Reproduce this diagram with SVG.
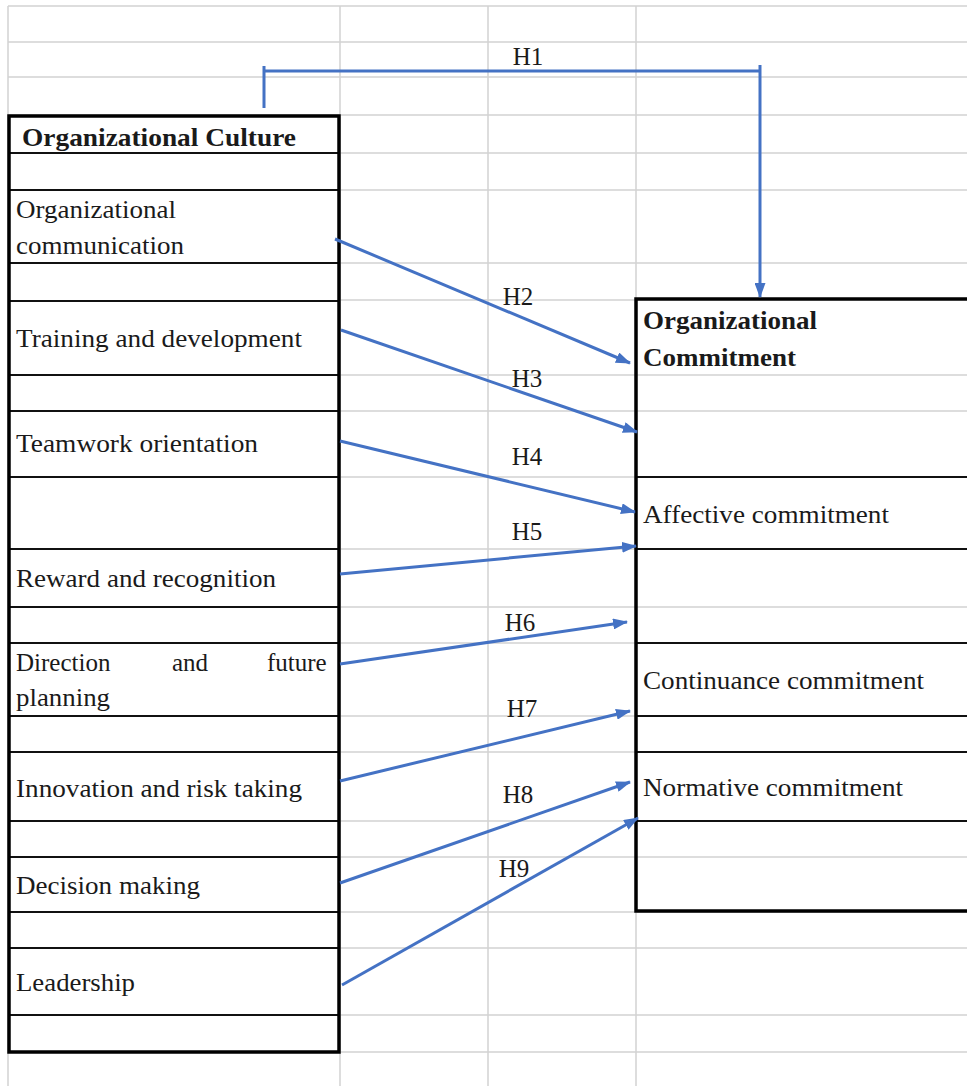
<svg xmlns="http://www.w3.org/2000/svg" width="967" height="1086" viewBox="0 0 967 1086">
<defs>
<style>
.grid{stroke:#d2d2d2;stroke-width:1.5;fill:none}
.box{stroke:#000;stroke-width:3.5;fill:none}
.row{stroke:#111;stroke-width:2;fill:none}
.t{font-family:"Liberation Serif","Times New Roman",serif;font-size:25px;fill:#1a1a1a}
.b{font-weight:bold}
.c{stroke:#4472C4;stroke-width:3;fill:none}
.lbl{font-family:"Liberation Serif","Times New Roman",serif;font-size:25px;fill:#1a1a1a;text-anchor:middle}
</style>
<marker id="ah" markerUnits="userSpaceOnUse" markerWidth="15" markerHeight="11" refX="14" refY="5.5" orient="auto">
<path d="M0,0 L15,5.5 L0,11 z" fill="#4472C4"/>
</marker>
</defs>
<rect width="967" height="1086" fill="#fff"/>
<g id="grid" class="grid">
<path d="M8,6H967M8,42H967M8,77H967M8,115H967M8,153H967M8,190H967M8,263H967M8,300H967M8,375H967M8,411H967M8,477H967M8,549H967M8,607H967M8,643H967M8,716H967M8,752H967M8,821H967M8,857H967M8,912H967M8,948H967M8,1015H967M8,1052H967"/>
<path d="M8,6V1086M340,6V1086M488,6V1086M636,6V1086"/>
</g>
<g id="org-culture">
<rect x="9" y="116" width="330" height="936" fill="#fff"/>
<path class="row" d="M9,153H339M9,190H339M9,263H339M9,301H339M9,375H339M9,411H339M9,477H339M9,549H339M9,607H339M9,643H339M9,716H339M9,752H339M9,821H339M9,857H339M9,912H339M9,948H339M9,1015H339"/>
<rect class="box" x="9" y="116" width="330" height="936"/>
<text class="t b" x="22" y="146" textLength="274" lengthAdjust="spacingAndGlyphs">Organizational Culture</text>
</g>
<g id="n-communication"><text class="t" x="16" y="218" textLength="160" lengthAdjust="spacingAndGlyphs">Organizational</text><text class="t" x="16" y="254" textLength="168" lengthAdjust="spacingAndGlyphs">communication</text></g>
<g id="n-training"><text class="t" x="16" y="347" textLength="286" lengthAdjust="spacingAndGlyphs">Training and development</text></g>
<g id="n-teamwork"><text class="t" x="16" y="452" textLength="242" lengthAdjust="spacingAndGlyphs">Teamwork orientation</text></g>
<g id="n-reward"><text class="t" x="16" y="587" textLength="260" lengthAdjust="spacingAndGlyphs">Reward and recognition</text></g>
<g id="n-direction"><text class="t" y="671"><tspan x="16">Direction</tspan><tspan x="172">and</tspan><tspan x="267">future</tspan></text><text class="t" x="16" y="706" textLength="94" lengthAdjust="spacingAndGlyphs">planning</text></g>
<g id="n-innovation"><text class="t" x="16" y="797" textLength="286" lengthAdjust="spacingAndGlyphs">Innovation and risk taking</text></g>
<g id="n-decision"><text class="t" x="16" y="894" textLength="184" lengthAdjust="spacingAndGlyphs">Decision making</text></g>
<g id="n-leadership"><text class="t" x="16" y="991" textLength="119" lengthAdjust="spacingAndGlyphs">Leadership</text></g>
<g id="org-commitment">
<rect x="636" y="299" width="345" height="612" fill="#fff"/>
<path class="grid" d="M636,375H967M636,411H967M636,607H967M636,857H967"/>
<path class="row" d="M636,477H967M636,549H967M636,643H967M636,716H967M636,752H967M636,821H967"/>
<rect class="box" x="636" y="299" width="345" height="612"/>
<text class="t b" x="643" y="329" textLength="174" lengthAdjust="spacingAndGlyphs">Organizational</text>
<text class="t b" x="643" y="366" textLength="153" lengthAdjust="spacingAndGlyphs">Commitment</text>
</g>
<g id="n-affective"><text class="t" x="643" y="523" textLength="246" lengthAdjust="spacingAndGlyphs">Affective commitment</text></g>
<g id="n-continuance"><text class="t" x="643" y="689" textLength="281" lengthAdjust="spacingAndGlyphs">Continuance commitment</text></g>
<g id="n-normative"><text class="t" x="643" y="796" textLength="260" lengthAdjust="spacingAndGlyphs">Normative commitment</text></g>
<g id="connectors">
<path class="c" d="M264,108V66M264,71H760"/>
<path class="c" d="M760,65V297" marker-end="url(#ah)"/>
<path class="c" d="M335,239L630,363" marker-end="url(#ah)"/>
<path class="c" d="M341,330L637,432" marker-end="url(#ah)"/>
<path class="c" d="M340,441L635,512" marker-end="url(#ah)"/>
<path class="c" d="M340,574L636,546" marker-end="url(#ah)"/>
<path class="c" d="M340,664L627,622" marker-end="url(#ah)"/>
<path class="c" d="M340,781L630,711" marker-end="url(#ah)"/>
<path class="c" d="M340,883L630,782" marker-end="url(#ah)"/>
<path class="c" d="M342,985L638,818" marker-end="url(#ah)"/>
<text class="lbl" x="528" y="65">H1</text>
<text class="lbl" x="518" y="305">H2</text>
<text class="lbl" x="527" y="387">H3</text>
<text class="lbl" x="527" y="465">H4</text>
<text class="lbl" x="527" y="540">H5</text>
<text class="lbl" x="520" y="631">H6</text>
<text class="lbl" x="522" y="717">H7</text>
<text class="lbl" x="518" y="803">H8</text>
<text class="lbl" x="514" y="877">H9</text>
</g>
</svg>
